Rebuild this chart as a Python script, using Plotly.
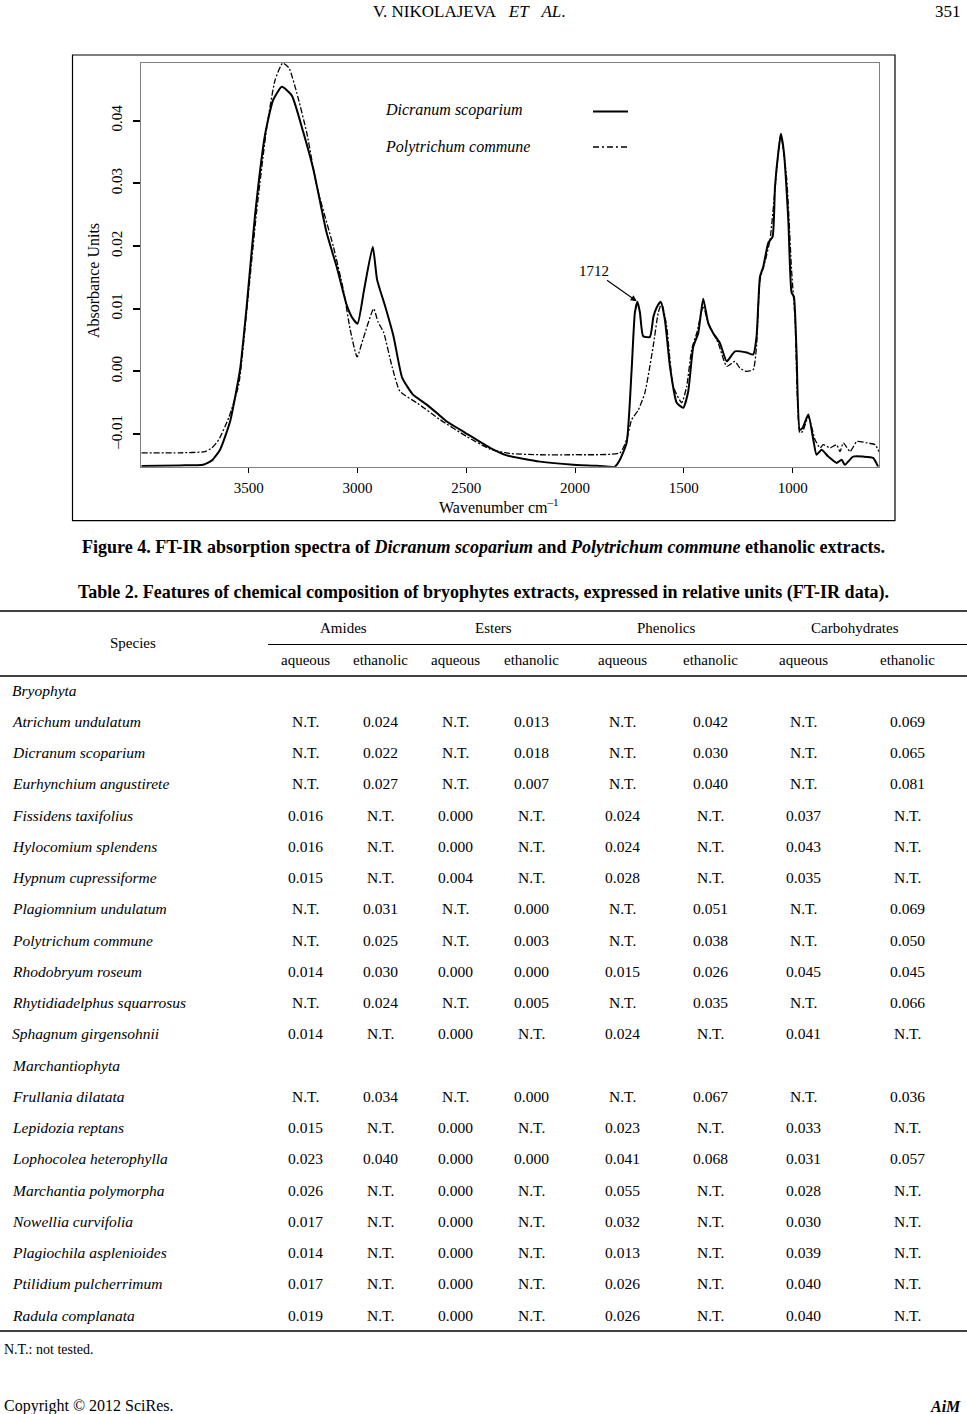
import plotly.graph_objects as go

W, H = 967, 1414
SERIF = "Liberation Serif, Times New Roman, serif"

# ---------------- spectra data (wavenumber cm-1, absorbance units) ----------------
wn_dicranum = [3994, 3816, 3710, 3669, 3632, 3586, 3540, 3509, 3471, 3425, 3388, 3348, 3302,
               3249, 3203, 3142, 3096, 3050, 3025, 3000, 2970, 2930, 2910, 2874, 2834, 2795,
               2745, 2682, 2627, 2590, 2505, 2391, 2314, 2161, 2008, 1886, 1817, 1794, 1763,
               1740, 1725, 1713, 1702, 1687, 1656, 1640, 1625, 1607, 1587, 1564, 1533, 1503,
               1480, 1457, 1434, 1411, 1388, 1365, 1334, 1303, 1265, 1211, 1181, 1166, 1150,
               1135, 1112, 1092, 1081, 1066, 1054, 1040, 1020, 1005, 994, 982, 967, 954, 928,
               905, 890, 867, 836, 798, 775, 760, 722, 676, 630, 607]
abs_dicranum = [-0.0151, -0.0150, -0.0149, -0.0142, -0.0125, -0.0080, 0.0003, 0.0106, 0.0250,
                0.0378, 0.0433, 0.0454, 0.0440, 0.0381, 0.0322, 0.0221, 0.0167, 0.0106, 0.0086,
                0.0076, 0.0130, 0.0199, 0.0146, 0.0105, 0.0055, -0.0010, -0.0037, -0.0053,
                -0.0069, -0.0080, -0.0098, -0.0122, -0.0134, -0.0144, -0.0149, -0.0151, -0.0152,
                -0.0141, -0.0114, 0.0003, 0.0094, 0.0111, 0.0094, 0.0056, 0.0055, 0.0087,
                0.0102, 0.0111, 0.0082, 0.0008, -0.0050, -0.0058, -0.0032, 0.0039, 0.0061,
                0.0116, 0.0077, 0.0061, 0.0045, 0.0016, 0.0032, 0.0030, 0.0027, 0.0055, 0.0151,
                0.0167, 0.0205, 0.0215, 0.0295, 0.0349, 0.0379, 0.0349, 0.0242, 0.0126, 0.0119,
                0.0030, -0.0093, -0.0090, -0.0069, -0.0109, -0.0133, -0.0125, -0.0136, -0.0146,
                -0.0141, -0.0149, -0.0136, -0.0136, -0.0138, -0.0152]

wn_polytrichum = [3994, 3816, 3701, 3669, 3638, 3592, 3546, 3509, 3463, 3417, 3379, 3344, 3315,
                  3279, 3233, 3187, 3111, 3065, 3034, 3002, 2975, 2926, 2906, 2880, 2841, 2805,
                  2728, 2621, 2498, 2391, 2299, 2161, 2008, 1794, 1763, 1740, 1710, 1679, 1641,
                  1618, 1602, 1579, 1549, 1510, 1487, 1464, 1440, 1411, 1388, 1342, 1303, 1265,
                  1242, 1211, 1181, 1166, 1150, 1127, 1104, 1081, 1066, 1054, 1027, 1005, 989,
                  967, 954, 928, 897, 874, 859, 828, 798, 782, 767, 736, 705, 659, 621, 603]
abs_polytrichum = [-0.0130, -0.0130, -0.0128, -0.0122, -0.0109, -0.0074, -0.0021, 0.0098,
                   0.0258, 0.0390, 0.0465, 0.0492, 0.0484, 0.0444, 0.0380, 0.0295, 0.0199,
                   0.0130, 0.0067, 0.0023, 0.0051, 0.0100, 0.0079, 0.0062, 0.0007, -0.0032,
                   -0.0050, -0.0077, -0.0104, -0.0124, -0.0131, -0.0133, -0.0133, -0.0130,
                   -0.0109, -0.0077, -0.0062, -0.0034, 0.0040, 0.0093, 0.0109, 0.0072, -0.0024,
                   -0.0050, -0.0024, 0.0035, 0.0062, 0.0104, 0.0077, 0.0045, 0.0008, 0.0016,
                   0.0005, 0.0000, 0.0003, 0.0040, 0.0146, 0.0175, 0.0210, 0.0290, 0.0349,
                   0.0379, 0.0306, 0.0162, 0.0083, -0.0098, -0.0096, -0.0072, -0.0109, -0.0122,
                   -0.0117, -0.0122, -0.0117, -0.0128, -0.0114, -0.0128, -0.0112, -0.0114,
                   -0.0117, -0.0128]

x_ticks = [3500, 3000, 2500, 2000, 1500, 1000]
y_ticks = [-0.01, 0.00, 0.01, 0.02, 0.03, 0.04]
y_ticktext = ["\u20130.01", "0.00", "0.01", "0.02", "0.03", "0.04"]
x_range = [3994, 603]
y_range = [-0.01521, 0.04925]
peak_label = 1712
peak_wn, peak_abs = 1713, 0.0111

# ---------------- table data ----------------
groups = ["Amides", "Esters", "Phenolics", "Carbohydrates"]
subcols = ["aqueous", "ethanolic"]
bryophyta = ["Atrichum undulatum", "Dicranum scoparium", "Eurhynchium angustirete",
             "Fissidens taxifolius", "Hylocomium splendens", "Hypnum cupressiforme",
             "Plagiomnium undulatum", "Polytrichum commune", "Rhodobryum roseum",
             "Rhytidiadelphus squarrosus", "Sphagnum girgensohnii"]
marchantiophyta = ["Frullania dilatata", "Lepidozia reptans", "Lophocolea heterophylla",
                   "Marchantia polymorpha", "Nowellia curvifolia", "Plagiochila asplenioides",
                   "Ptilidium pulcherrimum", "Radula complanata"]
NT = None
amides_aq = [NT, NT, NT, 0.016, 0.016, 0.015, NT, NT, 0.014, NT, 0.014,
             NT, 0.015, 0.023, 0.026, 0.017, 0.014, 0.017, 0.019]
amides_eth = [0.024, 0.022, 0.027, NT, NT, NT, 0.031, 0.025, 0.030, 0.024, NT,
              0.034, NT, 0.040, NT, NT, NT, NT, NT]
esters_aq = [NT, NT, NT, 0.000, 0.000, 0.004, NT, NT, 0.000, NT, 0.000,
             NT, 0.000, 0.000, 0.000, 0.000, 0.000, 0.000, 0.000]
esters_eth = [0.013, 0.018, 0.007, NT, NT, NT, 0.000, 0.003, 0.000, 0.005, NT,
              0.000, NT, 0.000, NT, NT, NT, NT, NT]
phen_aq = [NT, NT, NT, 0.024, 0.024, 0.028, NT, NT, 0.015, NT, 0.024,
           NT, 0.023, 0.041, 0.055, 0.032, 0.013, 0.026, 0.026]
phen_eth = [0.042, 0.030, 0.040, NT, NT, NT, 0.051, 0.038, 0.026, 0.035, NT,
            0.067, NT, 0.068, NT, NT, NT, NT, NT]
carb_aq = [NT, NT, NT, 0.037, 0.043, 0.035, NT, NT, 0.045, NT, 0.041,
           NT, 0.033, 0.031, 0.028, 0.030, 0.039, 0.040, 0.040]
carb_eth = [0.069, 0.065, 0.081, NT, NT, NT, 0.069, 0.050, 0.045, 0.066, NT,
            0.036, NT, 0.057, NT, NT, NT, NT, NT]
value_cols = [amides_aq, amides_eth, esters_aq, esters_eth, phen_aq, phen_eth, carb_aq, carb_eth]

# ---------------- layout helpers ----------------
def px(x):
    return x / W

def py(y):
    return 1 - y / H

def text(x, y, s, size, xanchor="center", angle=0):
    return dict(xref="paper", yref="paper", x=px(x), y=py(y), text=s, showarrow=False,
                xanchor=xanchor, yanchor="middle", textangle=angle,
                font=dict(family=SERIF, size=size, color="black"))

fig = go.Figure()

fig.add_trace(go.Scatter(x=wn_dicranum, y=abs_dicranum, mode="lines",
                         line=dict(color="black", width=2, shape="spline", smoothing=0.5),
                         hoverinfo="skip", showlegend=False))
fig.add_trace(go.Scatter(x=wn_polytrichum, y=abs_polytrichum, mode="lines",
                         line=dict(color="black", width=1.3, dash="6px,2px,2px,2px",
                                   shape="spline", smoothing=0.5),
                         hoverinfo="skip", showlegend=False))

fig.update_layout(
    width=W, height=H, margin=dict(l=0, r=0, t=0, b=0),
    paper_bgcolor="white", plot_bgcolor="white", showlegend=False,
    font=dict(family=SERIF, color="black"),
    xaxis=dict(domain=[px(141.3), px(879)], range=x_range, tickvals=x_ticks,
               ticks="outside", ticklen=5, tickwidth=1, tickcolor="black",
               showline=True, linecolor="#808080", linewidth=1, mirror=True,
               showgrid=False, zeroline=False, ticklabelstandoff=2,
               tickfont=dict(family=SERIF, size=15, color="black")),
    yaxis=dict(domain=[py(466.7), py(62.7)], range=y_range, tickvals=y_ticks,
               ticktext=y_ticktext, tickangle=-90,
               ticks="outside", ticklen=7, tickwidth=2, tickcolor="black",
               showline=True, linecolor="#808080", linewidth=1, mirror=True,
               showgrid=False, zeroline=False, ticklabelstandoff=5,
               tickfont=dict(family=SERIF, size=15, color="black")),
)

shapes = []
ann = []

# outer figure box
shapes.append(dict(type="rect", xref="paper", yref="paper", x0=px(72.5), x1=px(895),
                   y0=py(520.7), y1=py(55), line=dict(color="black", width=1.2)))

# axis titles
ann.append(text(93, 281, "Absorbance Units", 16, angle=-90))
ann.append(text(499, 506, "Wavenumber cm<sup>\u20131</sup>", 16))

# legend
ann.append(text(383, 110, "<i>Dicranum scoparium</i>", 16, xanchor="left"))
ann.append(text(383, 146.5, "<i>Polytrichum commune</i>", 16, xanchor="left"))
shapes.append(dict(type="line", xref="paper", yref="paper", x0=px(593), x1=px(628),
                   y0=py(111.5), y1=py(111.5), line=dict(color="black", width=2)))
shapes.append(dict(type="line", xref="paper", yref="paper", x0=px(593), x1=px(628),
                   y0=py(147), y1=py(147),
                   line=dict(color="black", width=1.3, dash="6px,3px,2px,3px")))

# peak annotation
ann.append(dict(x=peak_wn, y=peak_abs, xref="x", yref="y", text=str(peak_label),
                showarrow=True, ax=-44, ay=-31, arrowhead=2, arrowsize=1.1,
                arrowwidth=1.1, arrowcolor="black", standoff=1,
                font=dict(family=SERIF, size=15, color="black")))

# page header
ann.append(text(469, 12, "V. NIKOLAJEVA&nbsp;&nbsp;&nbsp;<i>ET</i>&nbsp;&nbsp;&nbsp;<i>AL</i>.", 17))
ann.append(text(963, 12, "351", 17, xanchor="right"))

# captions
ann.append(text(483, 547, "<b>Figure 4. FT-IR absorption spectra of <i>Dicranum scoparium</i> and "
                          "<i>Polytrichum commune</i> ethanolic extracts.</b>", 18))
ann.append(text(483, 592, "<b>Table 2. Features of chemical composition of bryophytes extracts, "
                          "expressed in relative units (FT-IR data).</b>", 18))

# table rules
for y0, xa, xb, w in [(611, 0, 967, 1.5), (644.5, 268, 967, 1.2), (676, 0, 967, 1.5), (1331, 0, 967, 1.5)]:
    shapes.append(dict(type="line", xref="paper", yref="paper", x0=px(xa), x1=px(xb),
                       y0=py(y0), y1=py(y0), line=dict(color="black", width=w)))

col_x = [305, 380, 455, 531, 622, 710, 803, 907]
group_x = [343, 493, 666, 855]

ann.append(text(133, 643, "Species", 15))
for g, gx in zip(groups, group_x):
    ann.append(text(gx, 628, g, 15))
for i, cx in enumerate(col_x):
    ann.append(text(cx, 660, subcols[i % 2], 15))

rows = [("section", "Bryophyta")] + [("sp", s) for s in bryophyta] + \
       [("section", "Marchantiophyta")] + [("sp", s) for s in marchantiophyta]
row_y0, row_dy = 690, 31.25
k = 0
for i, (kind, name) in enumerate(rows):
    yy = row_y0 + row_dy * i
    ann.append(text(10, yy, "<i>%s</i>" % name, 15.5, xanchor="left"))
    if kind == "sp":
        for c, cx in enumerate(col_x):
            v = value_cols[c][k]
            ann.append(text(cx, yy, "N.T." if v is None else "%.3f" % v, 15.5))
        k += 1

# footer
ann.append(text(2, 1349, "N.T.: not tested.", 14, xanchor="left"))
ann.append(text(2, 1406, "Copyright \u00a9 2012 SciRes.", 16, xanchor="left"))
ann.append(text(963, 1406, "<b><i>AiM</i></b>", 16, xanchor="right"))

fig.update_layout(shapes=shapes, annotations=ann)
fig.write_html("out.html", config={"displayModeBar": False},
               post_script="document.body.style.margin='0';document.body.style.overflow='hidden';")
